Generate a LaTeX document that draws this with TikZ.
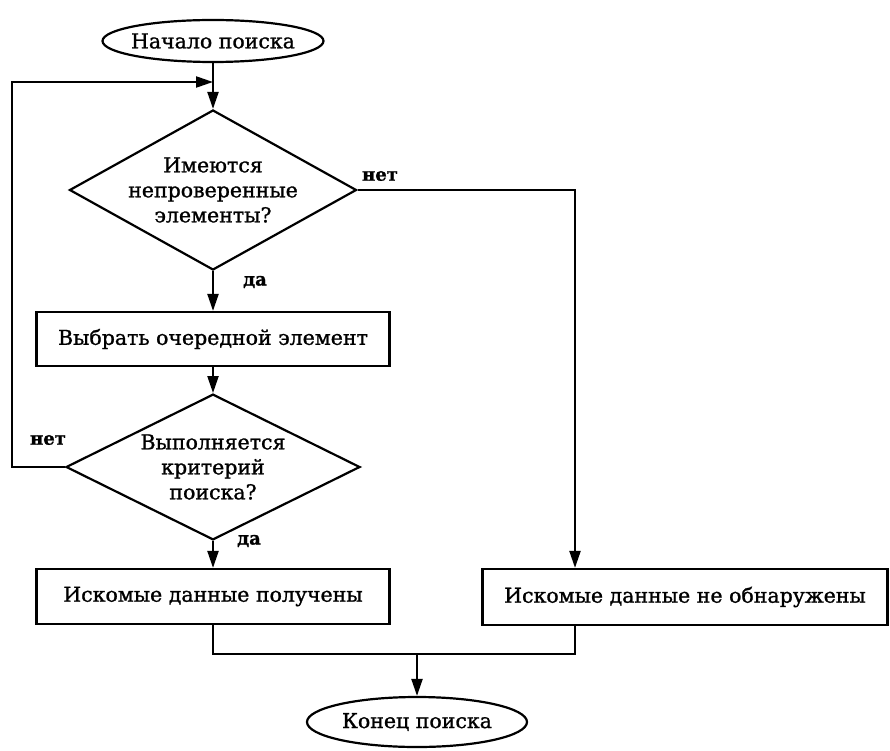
\documentclass[tikz,border=0pt]{standalone}
\usepackage{fontspec}
\setmainfont{DejaVu Serif}[FakeBold=1.2]
\usetikzlibrary{shapes.geometric,arrows.meta}
\begin{document}
\begin{tikzpicture}[x=1pt,y=-1pt, line width=2.2pt,
 every node/.style={font=\fontsize{20.5}{25}\selectfont},
 term/.style={ellipse, draw, inner xsep=-6pt, inner ysep=-4pt},
 proc/.style={rectangle, draw, inner sep=0pt},
 dec/.style={diamond, draw, inner sep=0pt, align=center, aspect=1.8},
 lab/.style={font=\fontsize{18}{21}\selectfont\bfseries, anchor=center},
 arr/.style={-{Triangle[length=17pt,width=11pt]}}
]
\useasboundingbox (0,0) rectangle (890,751);
\node[term, minimum width=221pt, minimum height=42pt] (start) at (213,41) {Начало поиска};
\node[dec, minimum width=283pt, minimum height=160pt] (d1) at (213,190) {Имеются\\непроверенные\\элементы?};
\node[proc, minimum width=353pt, minimum height=54pt] (b1) at (213,339) {Выбрать очередной элемент};
\node[dec, minimum width=294pt, minimum height=125pt] (d2) at (213,467) {Выполняется\\критерий\\поиска?};
\node[proc, minimum width=353pt, minimum height=55pt] (b2) at (213,596.5) {Искомые данные получены};
\node[proc, minimum width=405pt, minimum height=56pt] (b3) at (685,597) {Искомые данные не обнаружены};
\node[term, minimum width=220pt, minimum height=50pt] (end) at (417,722) {Конец поиска};

\coordinate (lc) at (12,82);
\coordinate (j1) at (213,82);
\coordinate (rt) at (575,190);
\coordinate (m) at (417,654);

\draw[arr] (start.south) -- (d1.north);
\draw[arr] (d2.west) -| (lc) -- (j1);
\draw[arr] (d1.south) -- (b1.north);
\draw[arr] (b1.south) -- (d2.north);
\draw[arr] (d2.south) -- (b2.north);
\draw[arr] (d1.east) -- (rt) -- (rt |- b3.north);
\draw (b2.south) |- (m);
\draw (rt |- b3.south) |- (m);
\draw[arr] (m) -- (end.north);

\node[lab] (n1) at (380,176) {нет};
\node[lab] (y1) at (255,282) {да};
\node[lab] (n2) at (48,440) {нет};
\node[lab] (y2) at (249,541) {да};
\end{tikzpicture}
\end{document}
